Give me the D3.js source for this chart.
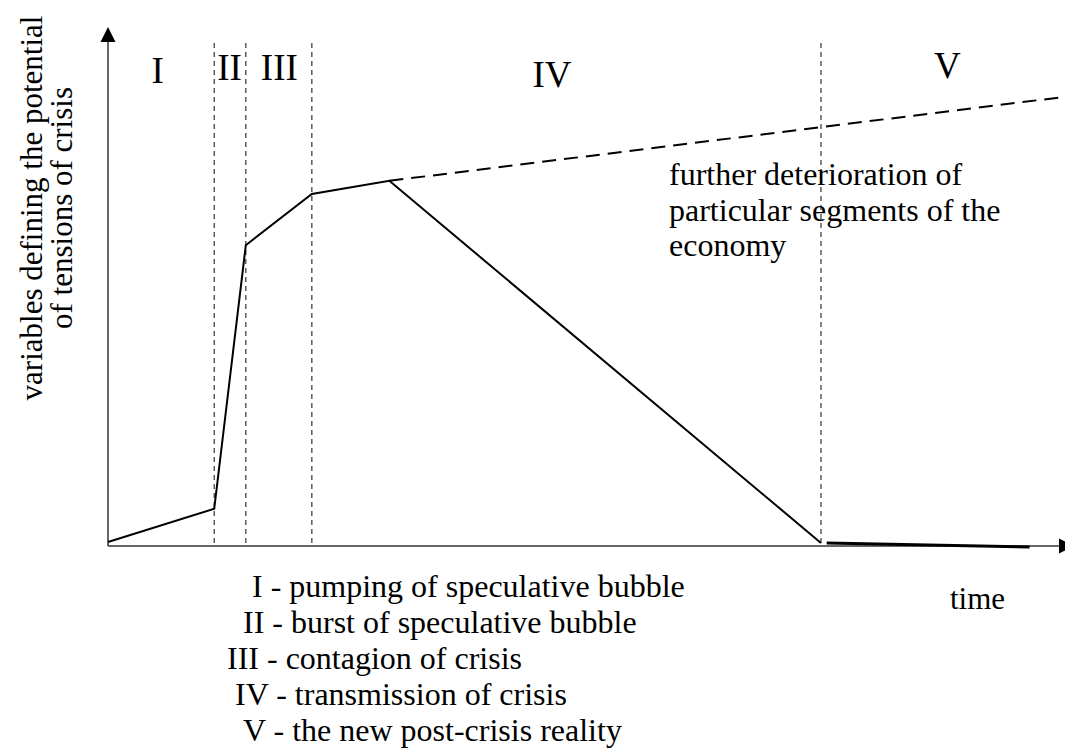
<!DOCTYPE html>
<html>
<head>
<meta charset="utf-8">
<script src="https://cdn.jsdelivr.net/npm/d3@7"></script>
<style>
  body { margin: 0; background: #fff; }
  svg { display: block; }
  text { font-family: "Liberation Serif", "Times New Roman", serif; fill: #000; }
</style>
</head>
<body>
<svg id="chart"></svg>
<script>
// phases of the crisis
const phases = ['I', 'II', 'III', 'IV', 'V']
const phaseEnds = [11.1, 14.4, 21.3, 74.5]          // time where phase I..IV ends
const phaseDescriptions = [
    'I - pumping of speculative bubble',
    'II - burst of speculative bubble',
    'III - contagion of crisis',
    'IV - transmission of crisis',
    'V - the new post-crisis reality'
]

// main curve (time, tension)
const crisisTime = [0, 11.1, 14.4, 21.3, 29.4, 74.5]
const crisisValue = [0.8, 7.4, 59.8, 70.0, 72.6, 0.6]

// post crisis reality
const postTime = [75.1, 96.3]
const postValue = [0.6, -0.2]

// further deterioration (dashed)
const deterTime = [29.4, 100]
const deterValue = [72.6, 89.3]

const annotation = ['further deterioration of', 'particular segments of the', 'economy']
const yTitle = ['variables defining the potential', 'of tensions of crisis']
const xTitle = 'time'

let svgWidth = 1065
let svgHeight = 749

let svg = d3.select('#chart')
    .attr('width', svgWidth)
    .attr('height', svgHeight)

let x = d3.scaleLinear().domain([0, 100]).range([108, 1065])
let y = d3.scaleLinear().domain([0, 100]).range([546, 43])

// axes
svg.append('line')
    .attr('x1', x(0)).attr('x2', x(0))
    .attr('y1', y(0)).attr('y2', 40)
    .attr('stroke', '#333').attr('stroke-width', 1.5)
svg.append('path')
    .attr('d', `M${x(0)},27 L${x(0) - 7.5},42 L${x(0) + 7.5},42 Z`)
    .attr('fill', '#000')
svg.append('line')
    .attr('x1', x(0)).attr('x2', 1062)
    .attr('y1', y(0)).attr('y2', y(0))
    .attr('stroke', '#333').attr('stroke-width', 1.5)
svg.append('path')
    .attr('d', `M1074,${y(0)} L1059,${y(0) - 7.5} L1059,${y(0) + 7.5} Z`)
    .attr('fill', '#000')

// phase dividers
svg.selectAll('.divider').data(phaseEnds)
    .enter()
    .append('line')
    .attr('class', 'divider')
    .attr('x1', d => x(d)).attr('x2', d => x(d))
    .attr('y1', y(100)).attr('y2', y(0))
    .attr('stroke', '#333')
    .attr('stroke-width', 1.2)
    .attr('stroke-dasharray', '5,4')

// phase labels (centre x in time units, baseline y in px)
const phaseLabelX = [5.2, 12.7, 17.9, 46.4, 87.7]
const phaseLabelY = [83, 80, 80, 87, 78]
svg.selectAll('.phase').data(phases)
    .enter()
    .append('text')
    .attr('class', 'phase')
    .attr('x', (d, i) => x(phaseLabelX[i]))
    .attr('y', (d, i) => phaseLabelY[i])
    .attr('text-anchor', 'middle')
    .style('font-size', '37px')
    .text(d => d)

let line = d3.line()
    .x(d => x(d[0]))
    .y(d => y(d[1]))

// dashed further deterioration
svg.append('path')
    .datum(d3.zip(deterTime, deterValue))
    .attr('d', line)
    .attr('fill', 'none')
    .attr('stroke', '#000')
    .attr('stroke-width', 2)
    .attr('stroke-dasharray', '14,8')

// main curve
svg.append('path')
    .datum(d3.zip(crisisTime, crisisValue))
    .attr('d', line)
    .attr('fill', 'none')
    .attr('stroke', '#000')
    .attr('stroke-width', 2)
    .attr('stroke-linejoin', 'miter')

// post crisis
svg.append('path')
    .datum(d3.zip(postTime, postValue))
    .attr('d', line)
    .attr('fill', 'none')
    .attr('stroke', '#000')
    .attr('stroke-width', 3)

// annotation
svg.append('text')
    .attr('x', 669)
    .attr('y', 185)
    .style('font-size', '32px')
    .selectAll('tspan').data(annotation)
    .enter()
    .append('tspan')
    .attr('x', 669)
    .attr('dy', (d, i) => i == 0 ? 0 : 35.5)
    .text(d => d)

// y title
svg.append('text')
    .attr('transform', 'translate(42,208) rotate(-90)')
    .attr('text-anchor', 'middle')
    .style('font-size', '31px')
    .selectAll('tspan').data(yTitle)
    .enter()
    .append('tspan')
    .attr('x', 0)
    .attr('dy', (d, i) => i == 0 ? 0 : 30)
    .text(d => d)

// x title
svg.append('text')
    .attr('x', 950)
    .attr('y', 609)
    .style('font-size', '31px')
    .text(xTitle)

// legend of phases
const legendX = [252, 243, 227, 235, 243]
svg.selectAll('.legend').data(phaseDescriptions)
    .enter()
    .append('text')
    .attr('class', 'legend')
    .attr('x', (d, i) => legendX[i])
    .attr('y', (d, i) => 597 + i * 36)
    .style('font-size', '32px')
    .text(d => d)
</script>
</body>
</html>
